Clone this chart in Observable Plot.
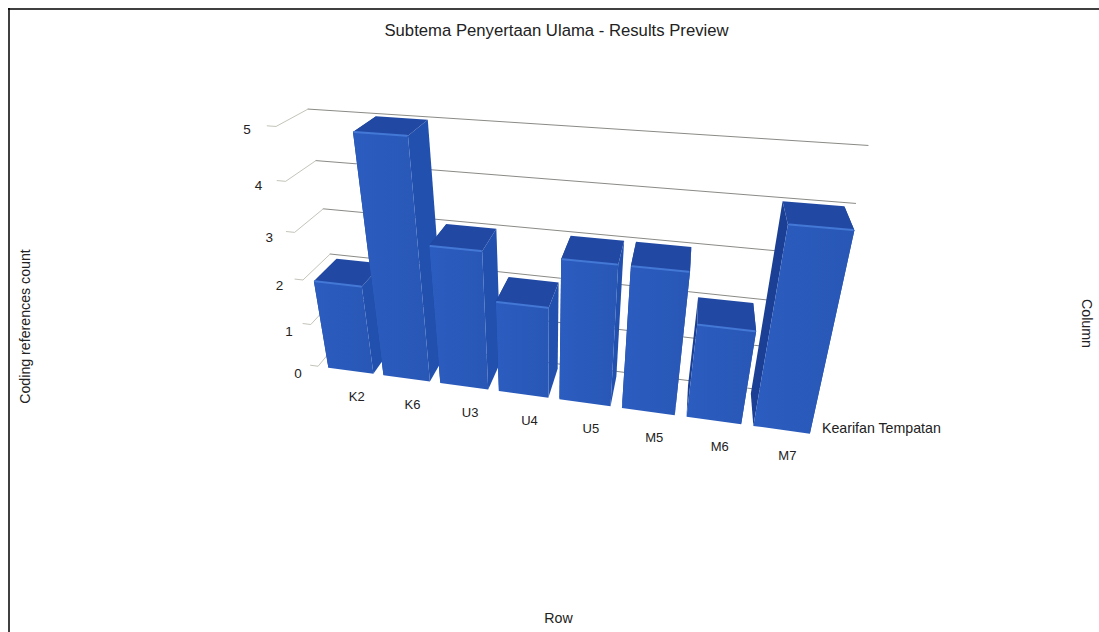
<!DOCTYPE html>
<html><head><meta charset="utf-8">
<script src="https://cdn.jsdelivr.net/npm/d3@7"></script>
<script src="https://cdn.jsdelivr.net/npm/@observablehq/plot@0.6"></script>
<style>html,body{margin:0;padding:0;background:#fff;overflow:hidden}</style>
</head><body><div id="chart"></div>
<script>
const rows = ["K2","K6","U3","U4","U5","M5","M6","M7"];
const counts = [2,5,3,2,3,3,2,4];
const valueTicks = [0,1,2,3,4,5];
const seriesName = "Kearifan Tempatan";
const chartTitle = "Subtema Penyertaan Ulama - Results Preview";
const rowTitle = "Row", columnTitle = "Column", valueTitle = "Coding references count";

// Perspective camera: (u along rows, d into depth, v value) -> picture plane
const cam = {X:[323,49.2,47.6,-17.1], Y:[366.5,1.85,-7.4,-52], W:[1,-0.01518,0.067,-0.0315]};
const dot = (c,u,d,v)=>c[0]+c[1]*u+c[2]*d+c[3]*v;
const proj = (u,d,v)=>{const w=dot(cam.W,u,d,v);return {x:dot(cam.X,u,d,v)/w,y:dot(cam.Y,u,d,v)/w};};
const gap=0.09, depth=0.85;
const font="Liberation Sans, Arial, sans-serif";

const poly=(pts,fill)=>Plot.line(pts.map(p=>proj(...p)),{x:"x",y:"y",fill,stroke:"none",curve:"linear-closed"});
const seg=(pts,stroke,strokeWidth=1)=>Plot.line(pts.map(p=>proj(...p)),{x:"x",y:"y",stroke,strokeWidth});

const wall = valueTicks.map(v=>seg([[-0.1,1,v],[8.08,1,v]],"#8a8a86",1));
const diag = valueTicks.map(v=>seg([[-0.24,0,v],[-0.1,0,v],[-0.1,1,v]],"#c4c4ba",1));

const bars = rows.flatMap((r,i)=>{
  const a=i+gap,b=i+1-gap,h=counts[i];
  return [
    poly([[a,0,0],[a,depth,0],[a,depth,h],[a,0,h]],"#1a3f94"),
    poly([[b,0,0],[b,depth,0],[b,depth,h],[b,0,h]],"#2150ae"),
    poly([[a,0,h],[b,0,h],[b,depth,h],[a,depth,h]],"#2149a4"),
    poly([[a,0,0],[b,0,0],[b,0,h],[a,0,h]],"url(#frontFace)"),
    seg([[a+0.02,0,h],[b-0.02,0,h]],"#4478d6",2)
  ];
});

const txt=(data,o)=>Plot.text(data,{fontFamily:font,fill:"#222",fontSize:14.2,...o});

const defs=()=>{
  const s=d3.create("svg:defs");
  const g=s.append("linearGradient").attr("id","frontFace").attr("x1",0).attr("x2",1).attr("y1",0).attr("y2",0);
  g.append("stop").attr("offset","0%").attr("stop-color","#2b5cbf");
  g.append("stop").attr("offset","100%").attr("stop-color","#2857b6");
  return s.node();
};

const chart = Plot.plot({
  width:1099,height:632,margin:0,
  x:{domain:[0,1099],range:[0,1099],axis:null},
  y:{domain:[0,632],range:[0,632],axis:null},
  style:{background:"#fff"},
  marks:[
    defs,
    Plot.ruleX([8.5],{y1:8,y2:632,stroke:"#000",strokeWidth:1.5}),
    Plot.ruleY([8.5],{x1:8,x2:1099,stroke:"#000",strokeWidth:1.5}),
    ...wall,...diag,...bars,
    txt(valueTicks,{x:v=>proj(-0.1,0,v).x-20-1.8*v,y:v=>proj(-0.1,0,v).y+3.5+(5-v)*0.8,text:v=>String(v),fontSize:13.5}),
    txt(rows,{x:(r,i)=>proj(i+0.5,0,0).x+6,y:(r,i)=>proj(i+0.5,0,0).y+26.3,text:r=>r,fontSize:13}),
    txt([seriesName],{x:()=>proj(8.1,0.02,0).x-1,y:()=>proj(8.1,0.02,0).y-6,text:d=>d,textAnchor:"start"}),
    txt([chartTitle],{x:()=>556,y:()=>30,text:d=>d,fontSize:16.7}),
    txt([rowTitle],{x:()=>558,y:()=>618,text:d=>d}),
    txt([valueTitle],{x:()=>25,y:()=>326,text:d=>d,rotate:-90}),
    txt([columnTitle],{x:()=>1086,y:()=>323,text:d=>d,rotate:90})
  ]
});
document.getElementById("chart").append(chart);
</script></body></html>
